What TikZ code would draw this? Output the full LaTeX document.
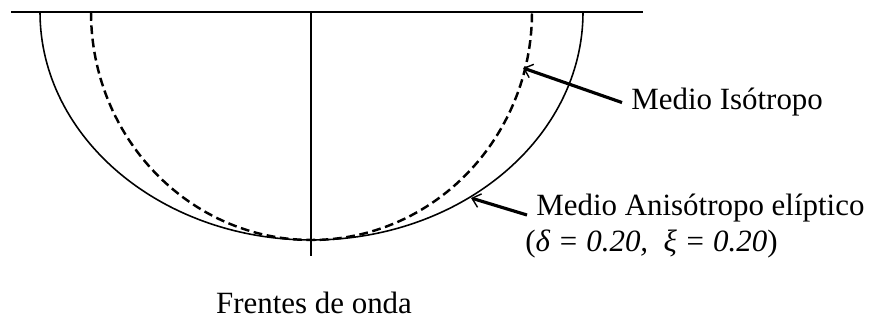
\documentclass[tikz,border=0pt]{standalone}
\usepackage{fontspec}
\setmainfont{Liberation Serif}
\usetikzlibrary{arrows.meta}

\begin{document}
\begin{tikzpicture}[x=0.02cm,y=0.02cm,
  labeltext/.style={font=\fontsize{17.6}{21}\selectfont,inner xsep=0.18cm,inner ysep=0pt},
  pointer/.style={line width=1.8pt,-{Straight Barb[length=4.5pt,width=8pt,line width=0.8pt]}}]
\useasboundingbox (0,0) rectangle (874,-320);
\coordinate (L) at (11,-12); \coordinate (R) at (643,-12);
\coordinate (O) at (311,-12); \coordinate (F) at (311,-256);
\draw[line width=0.8pt] (L)--(R);
\draw[line width=0.8pt] (O)--(F);
% frentes de onda
\draw[line width=0.9pt] (40,-12) arc[start angle=180,end angle=360,x radius=271.5,y radius=228];
\draw[line width=1.4pt,dash pattern=on 5pt off 2.6pt] (91,-12) arc[start angle=180,end angle=360,x radius=220.5,y radius=228];
\coordinate (isoP) at (523,-68); \coordinate (anisoP) at (471,-198);
\node[labeltext,anchor=base west] (iso) at (622,-110) {Medio Isótropo};
\node[labeltext,anchor=base west] (aniso) at (527,-215) {Medio Anisótropo elíptico};
\node[labeltext,anchor=base west] (param) at (516,-252) {(\textit{δ = 0.20,\ \ ξ = 0.20})};
\node[labeltext,anchor=base] (frentes) at (314,-313) {Frentes de onda};
\draw[pointer] (iso.west) -- (isoP);
\draw[pointer] (aniso.base west) -- (anisoP);
\end{tikzpicture}
\end{document}
